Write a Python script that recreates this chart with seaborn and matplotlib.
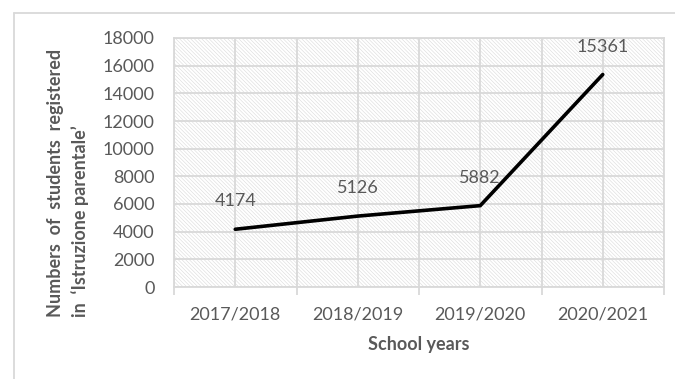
import matplotlib
matplotlib.use('Agg')
import matplotlib.pyplot as plt
import seaborn as sns
import pandas as pd
from matplotlib.lines import Line2D

# Data
years = ['2017/2018', '2018/2019', '2019/2020', '2020/2021']
students = [4174, 5126, 5882, 15361]

df = pd.DataFrame({'year': years, 'students': students})

sns.set_theme(style='white')
plt.rcParams['font.family'] = ['Lato', 'DejaVu Sans']
plt.rcParams['hatch.linewidth'] = 0.4
plt.rcParams['hatch.color'] = '#dadada'

grid_col = '#d9d9d9'
text_col = '#595959'

fig = plt.figure(figsize=(6.75, 3.79), dpi=100)
ax = fig.add_axes([174 / 675, 1 - 287 / 379, 490 / 675, 249 / 379])

# hatched plot area
ax.patch.set_facecolor('white')
ax.patch.set_hatch('\\' * 9)
ax.patch.set_edgecolor('#dadada')
ax.patch.set_linewidth(0)

sns.lineplot(data=df, x='year', y='students', color='black', linewidth=2.6,
             sort=False, ax=ax, zorder=5)

for i, v in enumerate(students):
    ax.annotate(str(v), (i, v), xytext=(0, 20), textcoords='offset points',
                ha='center', va='center', fontsize=13, color=text_col)

ax.set_xlim(-0.5, 3.5)
ax.set_ylim(0, 18000)
ax.set_yticks(range(0, 18001, 2000))
ax.set_xticks(range(len(years)))
ax.set_xticks([-0.5, 0.5, 1.5, 2.5, 3.5], minor=True)

ax.grid(True, which='both', color=grid_col, linewidth=1.3)
ax.set_axisbelow(True)
ax.tick_params(axis='x', which='major', length=0, labelsize=13, labelcolor=text_col, pad=14)
ax.tick_params(axis='x', which='minor', length=6, width=1.3, color=grid_col, direction='out', bottom=True)
ax.tick_params(axis='y', length=0, labelsize=13, labelcolor=text_col, pad=14)

for s in ax.spines.values():
    s.set_color(grid_col)
    s.set_linewidth(1.3)

ax.set_ylabel('')
ax.set_xlabel('School years', fontsize=13, fontweight='bold', color=text_col, labelpad=10)
fig.text(68 / 675, 1 - 183 / 379,
         'Numbers  of  students  registered\nin  \u2018Istruzione parentale\u2019',
         rotation=90, ha='center', va='center', multialignment='left',
         fontsize=13, fontweight='bold', color=text_col, linespacing=1.45)

# chart frame (left and top edges visible)
fig.add_artist(Line2D([14 / 675, 14 / 675], [0, 1 - 13 / 379], color=grid_col, linewidth=1.3))
fig.add_artist(Line2D([14 / 675, 1], [1 - 13 / 379, 1 - 13 / 379], color=grid_col, linewidth=1.3))

plt.savefig('out.png', dpi=100)
plt.close()
